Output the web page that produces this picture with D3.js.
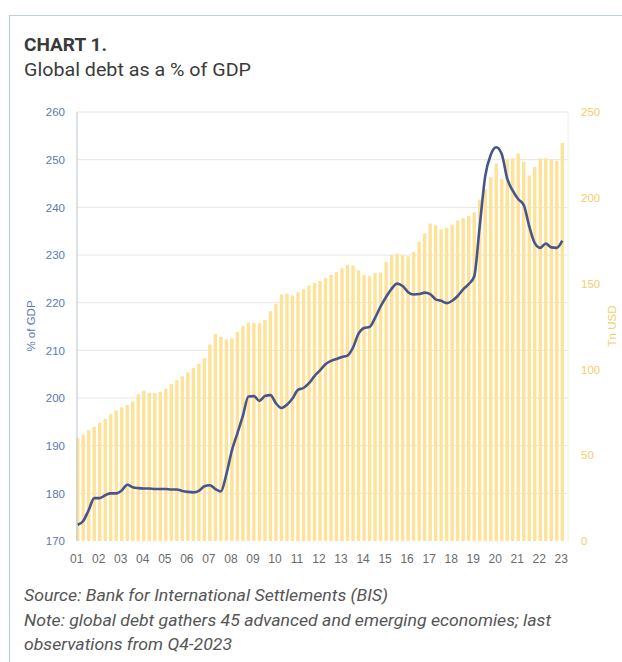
<!DOCTYPE html>
<html>
<head>
<meta charset="utf-8">
<script src="https://cdn.jsdelivr.net/npm/d3@7"></script>
<style>
  html, body { margin: 0; padding: 0; background: #fff; }
  svg { display: block; }
</style>
</head>
<body>
<svg id="chart" width="622" height="662"></svg>
<script>
// Quarterly observations, 2001-Q4 to 2023-Q4
const quarters = [];
for (let y = 2001; y <= 2023; y++) {
  for (let q = 1; q <= 4; q++) {
    if (y === 2001 && q < 4) continue;
    quarters.push(y + "-Q" + q);
  }
}

// Global debt, trillions of USD (bars, right axis)
const debtUsd = [
  60, 62, 64.5, 66.5, 68.8, 71.2, 73.8, 76, 77.8, 79.3,
  81.2, 85.5, 87.6, 86.3, 86.2, 86.9, 88.8, 91.4, 93.7, 96,
  98.3, 100.9, 103.2, 106.5, 114.5, 120.6, 118.9, 117.5, 118, 121.8,
  125.3, 127.2, 127, 126.9, 128.8, 133.9, 138.3, 143.7, 144.1, 143.1,
  145, 146.7, 148.8, 150.3, 151.6, 153.3, 155, 156.8, 158.9, 161,
  160.6, 157.7, 155, 154.3, 156.3, 156.4, 162.6, 166.7, 167.4, 166.5,
  165.9, 168.5, 174.3, 179.2, 185, 184, 181.6, 182.5, 184.4, 186.8,
  188.2, 189.5, 191.5, 199, 205, 212, 220, 211, 222.7, 223,
  225.8, 221, 213, 218, 223, 223, 222.2, 221.5, 232
];

// Global debt as a % of GDP (line, left axis)
const debtPctGdp = [
  173.4, 174.2, 176.5, 179, 179, 179.6, 180, 180, 180.6, 181.8,
  181.3, 181.1, 181, 181, 180.9, 180.9, 180.9, 180.8, 180.8, 180.5,
  180.3, 180.2, 180.5, 181.5, 181.7, 180.9, 180.4, 184, 189, 192.6,
  196.3, 200.3, 200.4, 199.4, 200.4, 200.6, 198.9, 197.9, 198.6, 199.9,
  201.7, 202.1, 203.1, 204.6, 205.8, 207.1, 207.8, 208.2, 208.6, 208.9,
  210.6, 213.5, 214.7, 214.9, 216.8, 219.2, 221.2, 222.9, 224, 223.5,
  222.2, 221.7, 221.8, 222.1, 221.8, 220.7, 220.4, 219.9, 220.4, 221.4,
  222.8, 223.9, 225.5, 236, 246.5, 251, 252.6, 251.2, 246, 243.5,
  241.7, 240.5, 236, 232.5, 231.5, 232.4, 231.6, 231.5, 233
];

// Axis ticks
const leftTicks = [170, 180, 190, 200, 210, 220, 230, 240, 250, 260];
const rightTicks = [0, 50, 100, 150, 200, 250];
const yearLabels = ["01","02","03","04","05","06","07","08","09","10","11","12",
                    "13","14","15","16","17","18","19","20","21","22","23"];

const title = "CHART 1.";
const subtitle = "Global debt as a % of GDP";
const notes = [
  "Source: Bank for International Settlements (BIS)",
  "Note: global debt gathers 45 advanced and emerging economies; last",
  "observations from Q4-2023"
];

const svg = d3.select("#chart");

// Card frame
svg.append("path")
  .attr("d", "M9.5,662 V15.5 H622")
  .attr("fill", "none")
  .attr("stroke", "#bfd0d8")
  .attr("stroke-width", 1.2);

// Heading
svg.append("text")
  .attr("x", 24).attr("y", 51)
  .attr("font-family", "Roboto, 'Noto Sans', sans-serif")
  .attr("font-weight", 700)
  .attr("font-size", 19)
  .attr("fill", "#3a3a3a")
  .attr("textLength", 83).attr("lengthAdjust", "spacingAndGlyphs")
  .text(title);

svg.append("text")
  .attr("x", 24).attr("y", 76)
  .attr("font-family", "Roboto, 'Noto Sans', sans-serif")
  .attr("font-size", 19)
  .attr("fill", "#3a3a3a")
  .attr("textLength", 227).attr("lengthAdjust", "spacingAndGlyphs")
  .text(subtitle);

// Plot geometry
const plot = { left: 77, right: 568, top: 112, bottom: 541 };

const x = d3.scaleBand()
  .domain(quarters)
  .range([76, 564])
  .paddingInner(0.38)
  .paddingOuter(0);

const yL = d3.scaleLinear().domain([170, 260]).range([plot.bottom, plot.top]);
const yR = d3.scaleLinear().domain([0, 250]).range([plot.bottom, plot.top]);

// Horizontal gridlines from the left axis
svg.append("g")
  .selectAll("line")
  .data(leftTicks.slice(1))
  .join("line")
  .attr("x1", plot.left).attr("x2", plot.right)
  .attr("y1", d => yL(d)).attr("y2", d => yL(d))
  .attr("stroke", "#e6e6e6")
  .attr("stroke-width", 1);

// Right frame edge
svg.append("line")
  .attr("x1", plot.right).attr("x2", plot.right)
  .attr("y1", plot.top).attr("y2", plot.bottom)
  .attr("stroke", "#eeeeee");

// Bars: debt in trillions of USD
svg.append("g")
  .selectAll("rect")
  .data(quarters)
  .join("rect")
  .attr("x", d => x(d))
  .attr("width", x.bandwidth())
  .attr("y", (d, i) => yR(debtUsd[i]))
  .attr("height", (d, i) => yR(0) - yR(debtUsd[i]))
  .attr("fill", "#fde29a");

// Left axis line
svg.append("line")
  .attr("x1", plot.left).attr("x2", plot.left)
  .attr("y1", plot.top).attr("y2", plot.bottom)
  .attr("stroke", "#c9ccd8")
  .attr("stroke-width", 1.2);

// Line: debt as % of GDP
const line = d3.line()
  .x((d, i) => x(quarters[i]) + x.bandwidth() / 2)
  .y(d => yL(d))
  .curve(d3.curveMonotoneX);

svg.append("path")
  .datum(debtPctGdp)
  .attr("d", line)
  .attr("fill", "none")
  .attr("stroke", "#46558c")
  .attr("stroke-width", 2.6)
  .attr("stroke-linejoin", "round");

// Left axis labels
const axisFont = "'Liberation Sans', Arial, sans-serif";
const leftAxis = d3.axisLeft(yL).tickValues(leftTicks).tickSize(0).tickPadding(0);
const gL = svg.append("g").attr("transform", `translate(65,0)`).call(leftAxis);
gL.select(".domain").remove();
gL.selectAll("text")
  .attr("font-family", axisFont).attr("font-size", 11.5)
  .attr("fill", "#5b78b4");

// Right axis labels
const rightAxis = d3.axisRight(yR).tickValues(rightTicks).tickSize(0).tickPadding(0);
const gR = svg.append("g").attr("transform", `translate(581,0)`).call(rightAxis);
gR.select(".domain").remove();
gR.selectAll("text")
  .attr("font-family", axisFont).attr("font-size", 11.5)
  .attr("fill", "#f5cd6a");

// Bottom axis: one label per year, on every fourth quarter
const labelQuarters = quarters.filter((d, i) => i % 4 === 0);
const bottomAxis = d3.axisBottom(x)
  .tickValues(labelQuarters)
  .tickFormat((d, i) => yearLabels[i])
  .tickSize(0).tickPadding(0);
const gB = svg.append("g").attr("transform", `translate(-1,${plot.bottom + 13})`).call(bottomAxis);
gB.select(".domain").remove();
gB.selectAll("text")
  .attr("font-family", axisFont).attr("font-size", 12)
  .attr("fill", "#6a6a6a");

// Axis titles
svg.append("text")
  .attr("transform", "translate(35,326) rotate(-90)")
  .attr("text-anchor", "middle")
  .attr("font-family", axisFont).attr("font-size", 11.5)
  .attr("fill", "#5b78b4")
  .text("% of GDP");

svg.append("text")
  .attr("transform", "translate(616,326) rotate(-90)")
  .attr("text-anchor", "middle")
  .attr("font-family", axisFont).attr("font-size", 11.5)
  .attr("fill", "#f5cd6a")
  .text("Tn USD");

// Source and notes
const noteWidths = [364, 527, 208];
svg.append("g")
  .selectAll("text")
  .data(notes)
  .join("text")
  .attr("x", 24)
  .attr("y", (d, i) => 601 + i * 24.5)
  .attr("font-family", "Roboto, 'Noto Sans', sans-serif")
  .attr("font-style", "italic")
  .attr("font-size", 17)
  .attr("fill", "#555555")
  .attr("textLength", (d, i) => noteWidths[i])
  .attr("lengthAdjust", "spacingAndGlyphs")
  .text(d => d);
</script>
</body>
</html>
